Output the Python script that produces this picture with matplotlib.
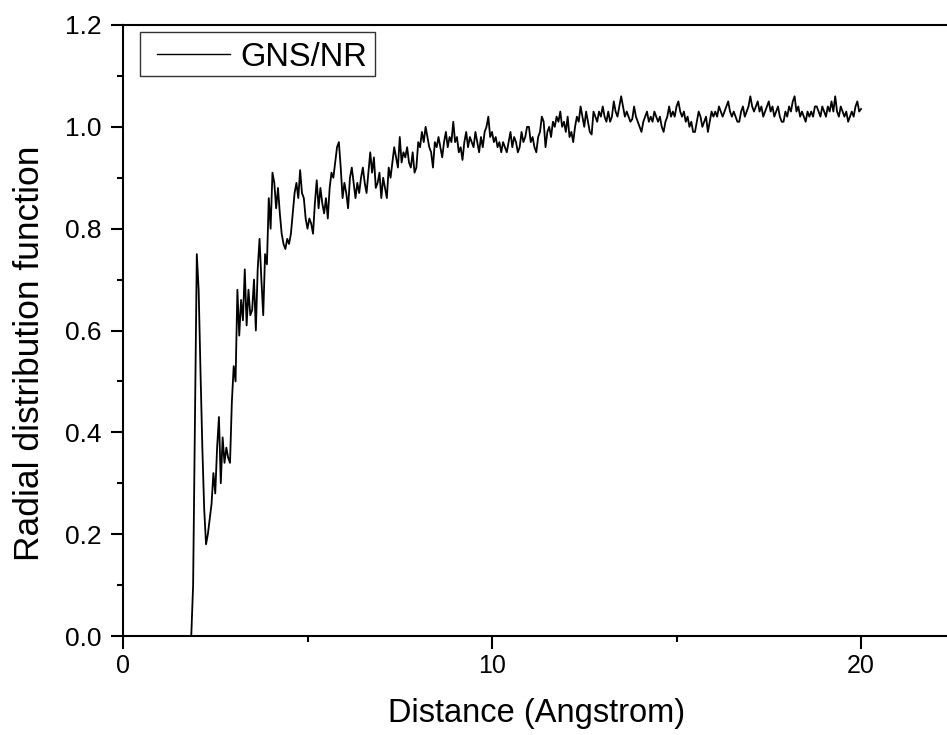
import numpy as np
import matplotlib
matplotlib.use("Agg")
import matplotlib.pyplot as plt
from matplotlib.ticker import MultipleLocator
from matplotlib.patches import Rectangle
from matplotlib.lines import Line2D

plt.rcParams['font.family'] = ['Liberation Sans', 'DejaVu Sans']

# ---- data ----
distance_start = 1.80
distance_step = 0.05
series_label = "GNS/NR"
x_label = "Distance (Angstrom)"
y_label = "Radial distribution function"
x_ticks = [0, 10, 20]
y_ticks = [0.0, 0.2, 0.4, 0.6, 0.8, 1.0, 1.2]

rdf = [
    0.00, 0.00, 0.10, 0.42,                                                     # 1.80-1.95
    0.75, 0.68, 0.52, 0.37, 0.25, 0.18, 0.20, 0.23, 0.26, 0.32,                 # 2.00-2.45
    0.28, 0.37, 0.43, 0.30, 0.39, 0.34, 0.37, 0.35, 0.34, 0.46,                 # 2.50-2.95
    0.53, 0.50, 0.68, 0.59, 0.66, 0.62, 0.72, 0.61, 0.68, 0.63,                 # 3.00-3.45
    0.64, 0.70, 0.60, 0.72, 0.78, 0.70, 0.63, 0.75, 0.73, 0.86,                 # 3.50-3.95
    0.80, 0.91, 0.89, 0.84, 0.88, 0.83, 0.79, 0.77, 0.76, 0.78,                 # 4.00-4.45
    0.77, 0.79, 0.83, 0.87, 0.89, 0.86, 0.915, 0.87, 0.86, 0.82,                # 4.50-4.95
    0.80, 0.82, 0.81, 0.79, 0.85, 0.895, 0.84, 0.88, 0.85, 0.83,                # 5.00-5.45
    0.86, 0.82, 0.88, 0.91, 0.90, 0.93, 0.96, 0.97, 0.92, 0.86,                 # 5.50-5.95
    0.89, 0.87, 0.84, 0.90, 0.92, 0.89, 0.86, 0.89, 0.87, 0.90,                 # 6.00-6.45
    0.92, 0.89, 0.87, 0.91, 0.95, 0.91, 0.94, 0.88, 0.89, 0.91,                 # 6.50-6.95
    0.86, 0.90, 0.88, 0.86, 0.92, 0.90, 0.93, 0.96, 0.94, 0.92,                 # 7.00-7.45
    0.98, 0.93, 0.95, 0.94, 0.96, 0.93, 0.92, 0.95, 0.91, 0.92,                 # 7.50-7.95
    0.97, 0.96, 0.99, 0.97, 1.00, 0.98, 0.96, 0.95, 0.92, 0.97,                 # 8.00-8.45
    0.96, 0.98, 0.96, 0.94, 0.97, 0.99, 0.96, 0.98, 0.97, 1.01,                 # 8.50-8.95
    0.97, 0.98, 0.95, 0.96, 0.935, 0.97, 0.99, 0.96, 0.98, 0.97,                # 9.00-9.45
    0.96, 0.99, 0.97, 0.95, 0.98, 0.96, 0.99, 1.00, 1.02, 0.98,                 # 9.50-9.95
    0.99, 0.97, 0.98, 0.96, 0.97, 0.95, 0.97, 0.96, 0.95, 0.97,                 # 10.00-10.45
    0.99, 0.96, 0.98, 0.97, 0.95, 0.96, 0.99, 0.97, 0.98, 1.00,                 # 10.50-10.95
    1.00, 0.97, 0.98, 0.96, 0.95, 0.98, 0.99, 1.02, 1.01, 0.96,                 # 11.00-11.45
    0.99, 1.00, 0.98, 1.01, 1.00, 1.02, 1.01, 1.03, 1.00, 1.01,                 # 11.50-11.95
    0.99, 1.02, 0.98, 0.99, 0.97, 1.00, 1.02, 1.01, 1.04, 1.02,                 # 12.00-12.45
    1.00, 1.03, 1.01, 0.99, 0.985, 1.03, 1.02, 1.01, 1.03, 1.02,                # 12.50-12.95
    1.04, 1.02, 1.01, 1.03, 1.01, 1.02, 1.05, 1.03, 1.02, 1.04,                 # 13.00-13.45
    1.06, 1.04, 1.02, 1.03, 1.02, 1.01, 1.015, 1.04, 1.02, 1.01,                # 13.50-13.95
    1.00, 0.99, 1.01, 1.02, 1.03, 1.01, 1.02, 1.01, 1.03, 1.02,                 # 14.00-14.45
    1.01, 1.02, 1.00, 0.99, 1.01, 1.02, 1.04, 1.02, 1.03, 1.02,                 # 14.50-14.95
    1.04, 1.05, 1.03, 1.02, 1.03, 1.01, 1.02, 1.00, 1.01, 0.99,                 # 15.00-15.45
    0.99, 1.01, 1.03, 1.02, 1.00, 1.01, 1.02, 0.99, 1.01, 1.03,                 # 15.50-15.95
    1.02, 1.03, 1.02, 1.04, 1.03, 1.02, 1.03, 1.04, 1.05, 1.03,                 # 16.00-16.45
    1.02, 1.03, 1.02, 1.01, 1.01, 1.03, 1.04, 1.02, 1.03, 1.04,                 # 16.50-16.95
    1.06, 1.04, 1.03, 1.04, 1.05, 1.03, 1.04, 1.02, 1.03, 1.04,                 # 17.00-17.45
    1.05, 1.03, 1.04, 1.02, 1.03, 1.04, 1.02, 1.01, 1.01, 1.03,                 # 17.50-17.95
    1.02, 1.04, 1.03, 1.05, 1.06, 1.03, 1.04, 1.02, 1.03, 1.02,                 # 18.00-18.45
    1.01, 1.03, 1.02, 1.03, 1.02, 1.04, 1.04, 1.03, 1.02, 1.04,                 # 18.50-18.95
    1.03, 1.02, 1.04, 1.03, 1.05, 1.03, 1.06, 1.03, 1.02, 1.04,                 # 19.00-19.45
    1.03, 1.02, 1.03, 1.01, 1.02, 1.03, 1.02, 1.04, 1.05, 1.03,                 # 19.50-19.95
    1.035,                                                                      # 20.00
]
distance = distance_start + distance_step * np.arange(len(rdf))

# ---- figure ----
W, H = 947, 735
fig = plt.figure(figsize=(W / 100, H / 100), dpi=100)
ax = fig.add_axes([123 / W, 1 - 636 / H, 826.6 / W, 611 / H])

ax.plot(distance, rdf, color='black', lw=1.3, label=series_label)

ax.set_xlim(0, 22.4)
ax.set_ylim(0, 1.2)
ax.set_xticks(x_ticks)
ax.set_yticks(y_ticks)
ax.set_yticklabels([f"{v:.1f}" for v in y_ticks])
ax.xaxis.set_minor_locator(MultipleLocator(5))
ax.yaxis.set_minor_locator(MultipleLocator(0.1))

for side in ['left', 'bottom', 'top']:
    ax.spines[side].set_linewidth(1.5)
ax.spines['right'].set_visible(False)

ax.tick_params(which='major', direction='out', length=9, width=1.5)
ax.tick_params(which='minor', direction='out', length=4.5, width=1.5)
ax.tick_params(axis='y', which='major', pad=6.5, labelsize=19)
ax.tick_params(axis='x', which='major', pad=4, labelsize=18)
ax.tick_params(top=False, right=False, which='both')

ax.set_xlabel(x_label, fontsize=23.5)
ax.set_ylabel(y_label, fontsize=25.5)
ax.xaxis.set_label_coords(0.5, -0.102)
ax.yaxis.set_label_coords(-0.0928, 0.463)

# ---- legend (Origin-style box) ----
frame = Rectangle((140 / W, 1 - 76 / H), 235 / W, 44 / H, transform=fig.transFigure,
                  facecolor='white', edgecolor='#333333', lw=1.0, zorder=5)
fig.patches.append(frame)
handle = Line2D([157 / W, 230 / W], [1 - 54 / H, 1 - 54 / H], transform=fig.transFigure,
                color='black', lw=1.0, zorder=6)
fig.lines.append(handle)
fig.text(240 / W, 1 - 54 / H, series_label, fontsize=23.5, ha='left', va='center_baseline',
         zorder=6)

fig.savefig('out.png', dpi=100)
